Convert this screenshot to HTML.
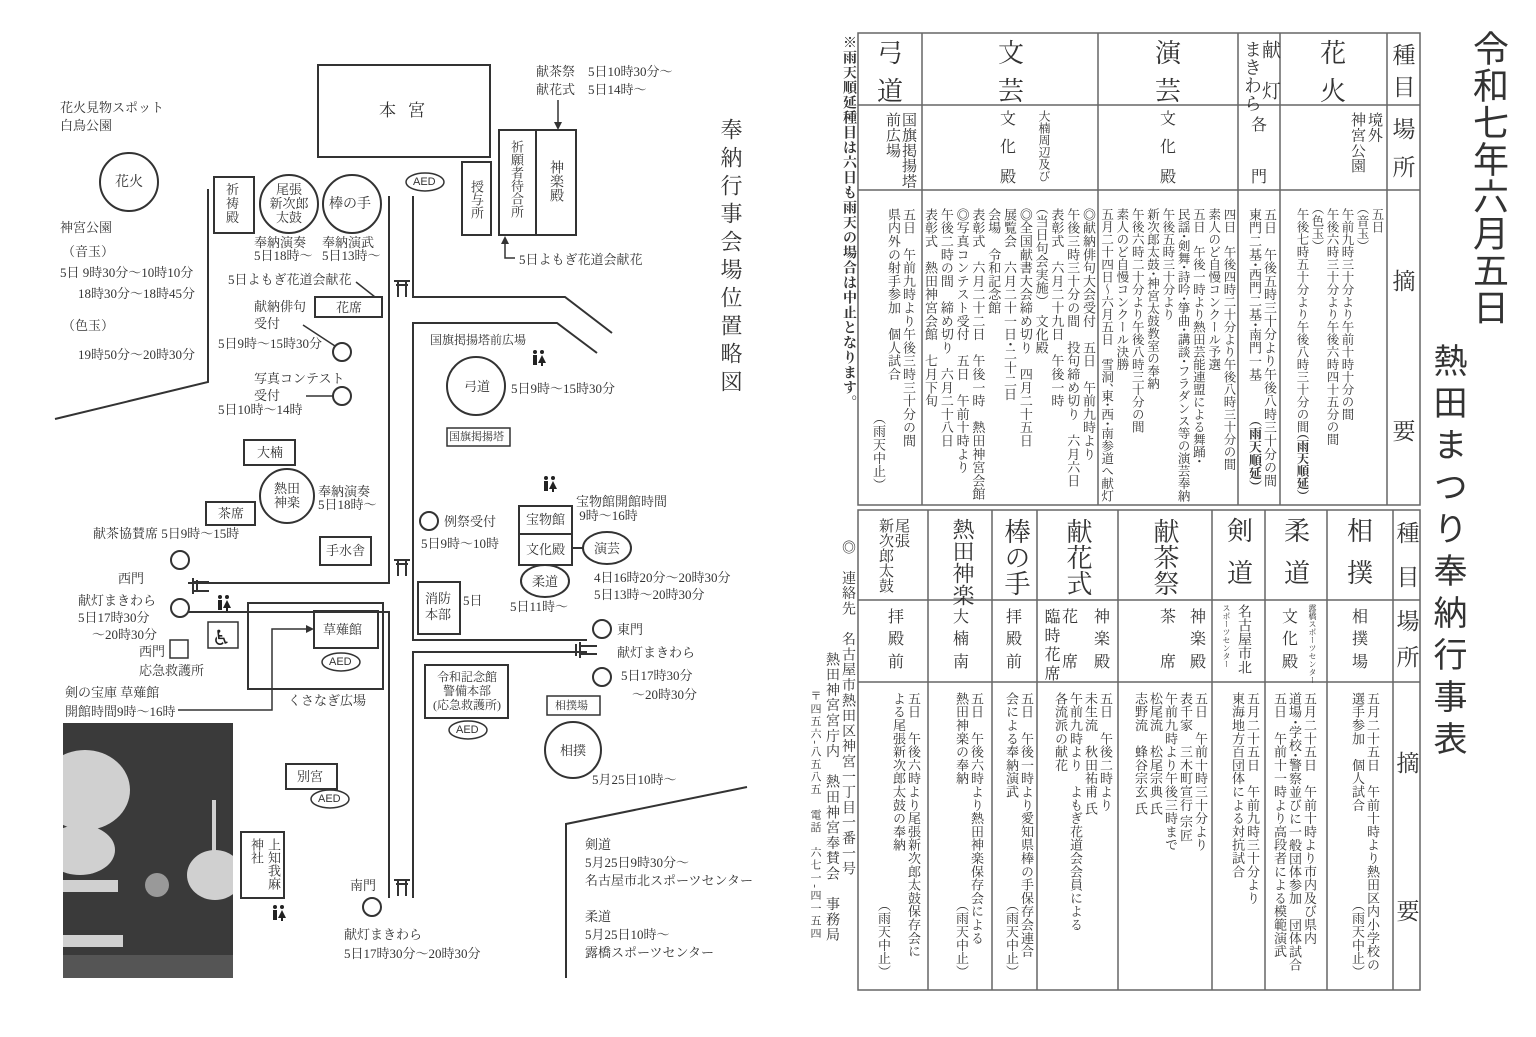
<!DOCTYPE html>
<html><head><meta charset="utf-8">
<style>
html,body{margin:0;padding:0;background:#fff;}
body{width:1536px;height:1037px;position:relative;overflow:hidden;color:#333;
font-family:"Liberation Serif","Noto Serif CJK JP","Noto Serif CJK SC",serif;}
.v{position:absolute;writing-mode:vertical-rl;white-space:nowrap;}
.t{position:absolute;white-space:nowrap;font-size:13px;line-height:15px;}
.b{font-size:13px;line-height:15px;letter-spacing:0.3px;font-feature-settings:"vhal";}
.h{position:absolute;font-size:23px;line-height:23px;width:30px;text-align:center;}
.p{position:absolute;font-size:16px;line-height:16px;}
.s{font-family:"Liberation Sans","Noto Sans CJK JP",sans-serif;}
</style></head><body>

<svg width="1536" height="1037" style="position:absolute;left:0;top:0" fill="none" stroke="#333" stroke-width="2">
<polyline points="208,189 208,382 55,419"/>
<polyline points="389,196 389,583 188,583"/>
<polyline points="188,612 389,612 389,898"/>
<polyline points="413,196 413,297 565,297 612,333"/>
<polyline points="597,353 557,323 413,323 413,640 587,640"/>
<polyline points="587,652 413,652 413,898"/>
<polyline points="566,978 566,824 747,787"/>
<rect x="318" y="65" width="172" height="92"/>
<rect x="499" y="130" width="37" height="105"/>
<rect x="536" y="130" width="40" height="105"/>
<rect x="462" y="162" width="29" height="73"/>
<rect x="214" y="177" width="40" height="56"/>
<circle cx="289" cy="204" r="29"/>
<circle cx="352" cy="204" r="29"/>
<circle cx="129" cy="182" r="29"/>
<rect x="315" y="297" width="67" height="20"/>
<circle cx="342" cy="352" r="9"/>
<circle cx="342" cy="396" r="9"/>
<line x1="303" y1="325" x2="335" y2="346" stroke-width="1.5"/>
<line x1="306" y1="396" x2="333" y2="396" stroke-width="1.5"/>
<line x1="356" y1="282" x2="375" y2="297" stroke-width="1.5"/>
<circle cx="476" cy="386" r="29"/>
<rect x="447" y="428" width="63" height="18" stroke-width="1.5"/>
<rect x="244" y="440" width="51" height="25"/>
<circle cx="287" cy="496" r="27"/>
<rect x="206" y="502" width="49" height="23"/>
<rect x="320" y="537" width="51" height="28"/>
<circle cx="429" cy="521" r="9"/>
<rect x="519" y="506" width="53" height="28"/>
<rect x="519" y="534" width="53" height="31"/>
<line x1="572" y1="548" x2="583" y2="548"/>
<ellipse cx="607" cy="548" rx="24" ry="16"/>
<ellipse cx="545" cy="581" rx="24" ry="16"/>
<rect x="418" y="582" width="42" height="52"/>
<circle cx="602" cy="629" r="9"/>
<circle cx="602" cy="677" r="9"/>
<circle cx="180" cy="560" r="9"/>
<circle cx="180" cy="608" r="9"/>
<rect x="170" y="640" width="18" height="18" stroke-width="1.5"/>
<rect x="208" y="622" width="30" height="26" stroke-width="1.5"/>
<rect x="248" y="603" width="135" height="86"/>
<rect x="314" y="611" width="64" height="37"/>
<polyline points="178,710 272,710 272,629 308,629" stroke-width="1.5"/>
<polygon points="314,629 306,625 306,633" fill="#333" stroke="none"/>
<rect x="425" y="665" width="83" height="53"/>
<rect x="547" y="696" width="53" height="19" stroke-width="1.5"/>
<circle cx="573" cy="750" r="28"/>
<rect x="286" y="764" width="51" height="25"/>
<rect x="241" y="832" width="43" height="66"/>
<circle cx="372" cy="907" r="9"/>
<line x1="558" y1="100" x2="558" y2="124" stroke-width="1.5"/>
<polygon points="558,130 554,122 562,122" fill="#333" stroke="none"/>
<polyline points="515,258 505,258 505,242" stroke-width="1.5"/>
<polygon points="505,236 501,244 509,244" fill="#333" stroke="none"/>
<g stroke-width="1.5">
<ellipse cx="425" cy="182" rx="19" ry="9"/>
<ellipse cx="341" cy="662" rx="19" ry="9"/>
<ellipse cx="468" cy="730" rx="19" ry="9"/>
<ellipse cx="330" cy="799" rx="19" ry="9"/>
</g>
<g stroke-width="2">
<path d="M394,281 H410 M396,285 H408 M398,281 V297 M406,281 V297"/>
<path d="M394,560 H410 M396,564 H408 M398,560 V576 M406,560 V576"/>
<path d="M394,880 H410 M396,884 H408 M398,880 V896 M406,880 V896"/>
<path d="M193,578 V594 M197,580 V592 M193,582 H209 M193,591 H209"/>
<path d="M580,642 V658 M576,644 V656 M580,646 H597 M580,654 H597"/>
</g>
<g stroke="#666" stroke-width="1.5">
<rect x="858" y="33" width="562" height="472"/>
<line x1="858" y1="105" x2="1420" y2="105"/>
<line x1="858" y1="190" x2="1420" y2="190"/>
<line x1="922" y1="33" x2="922" y2="505"/>
<line x1="1098" y1="33" x2="1098" y2="505"/>
<line x1="1238" y1="33" x2="1238" y2="505"/>
<line x1="1280" y1="33" x2="1280" y2="505"/>
<line x1="1387" y1="33" x2="1387" y2="505"/>
<rect x="858" y="510" width="562" height="480"/>
<line x1="858" y1="600" x2="1420" y2="600"/>
<line x1="858" y1="682" x2="1420" y2="682"/>
<line x1="928" y1="510" x2="928" y2="990"/>
<line x1="992" y1="510" x2="992" y2="990"/>
<line x1="1037" y1="510" x2="1037" y2="990"/>
<line x1="1118" y1="510" x2="1118" y2="990"/>
<line x1="1212" y1="510" x2="1212" y2="990"/>
<line x1="1265" y1="510" x2="1265" y2="990"/>
<line x1="1327" y1="510" x2="1327" y2="990"/>
<line x1="1393" y1="510" x2="1393" y2="990"/>
</g>
</svg>

<svg width="1536" height="1037" style="position:absolute;left:0;top:0" fill="#222">
<defs><clipPath id="ph"><rect x="63" y="723" width="170" height="255"/></clipPath></defs>
<g id="wc"><circle cx="535" cy="352" r="2"/><rect x="533" y="355" width="4" height="10"/><circle cx="542" cy="352" r="2"/><polygon points="542,355 538,363 546,363"/><rect x="541" y="362" width="2" height="4"/></g>
<use href="#wc" x="11" y="126"/>
<use href="#wc" x="-315" y="245"/>
<use href="#wc" x="-260" y="555"/>
<text x="212" y="645" font-size="21" fill="#222" font-family="DejaVu Sans">♿</text>
<rect x="63" y="723" width="170" height="255" fill="#3a3a3a"/>
<g clip-path="url(#ph)" fill="#d0d0d0">
<ellipse cx="85" cy="790" rx="45" ry="40"/><ellipse cx="80" cy="850" rx="35" ry="25"/>
<rect x="63" y="880" width="55" height="12"/><rect x="63" y="935" width="60" height="12"/>
<ellipse cx="215" cy="875" rx="28" ry="25"/><rect x="212" y="800" width="4" height="55"/>
<circle cx="157" cy="885" r="12" fill="#999"/>
<rect x="63" y="955" width="170" height="23" fill="#555"/>
</g>
</svg>

<div class="p" style="left:379px;top:103px;font-size:17px;letter-spacing:12px">本宮</div>
<div class="t" style="left:536px;top:64px">献茶祭　5日10時30分～</div>
<div class="t" style="left:536px;top:82px">献花式　5日14時～</div>
<div class="v" style="left:510px;top:140px;font-size:13px;line-height:13px">祈願者待合所</div>
<div class="v" style="left:548px;top:160px;font-size:14px;line-height:14px">神楽殿</div>
<div class="v" style="left:470px;top:180px;font-size:13px;line-height:13px">授与所</div>
<div class="t" style="left:519px;top:252px">5日よもぎ花道会献花</div>
<div class="t s" style="left:413px;top:175px;font-size:11px">AED</div>
<div class="t s" style="left:329px;top:655px;font-size:11px">AED</div>
<div class="t s" style="left:456px;top:723px;font-size:11px">AED</div>
<div class="t s" style="left:318px;top:792px;font-size:11px">AED</div>

<div class="t" style="left:60px;top:100px">花火見物スポット</div>
<div class="t" style="left:60px;top:118px">白鳥公園</div>
<div class="t" style="left:115px;top:175px;font-size:14px">花火</div>
<div class="t" style="left:60px;top:220px">神宮公園</div>
<div class="t" style="left:62px;top:244px">（音玉）</div>
<div class="t" style="left:60px;top:265px">5日 9時30分～10時10分</div>
<div class="t" style="left:78px;top:286px">18時30分～18時45分</div>
<div class="t" style="left:62px;top:318px">（色玉）</div>
<div class="t" style="left:78px;top:347px">19時50分～20時30分</div>

<div class="t" style="left:226px;top:183px;width:16px;white-space:normal;line-height:14px">祈祷殿</div>
<div class="t" style="left:268px;top:183px;text-align:center;width:42px;line-height:14px">尾張<br>新次郎<br>太鼓</div>
<div class="t" style="left:329px;top:197px;font-size:14px">棒の手</div>
<div class="t" style="left:254px;top:236px;line-height:13px">奉納演奏<br>5日18時～</div>
<div class="t" style="left:322px;top:236px;line-height:13px">奉納演武<br>5日13時～</div>
<div class="t" style="left:228px;top:272px">5日よもぎ花道会献花</div>
<div class="t" style="left:336px;top:300px">花席</div>
<div class="t" style="left:254px;top:298px;line-height:17px">献納俳句<br>受付</div>
<div class="t" style="left:218px;top:336px">5日9時～15時30分</div>
<div class="t" style="left:254px;top:370px;line-height:17px">写真コンテスト<br>受付</div>
<div class="t" style="left:218px;top:402px">5日10時～14時</div>

<div class="t" style="left:430px;top:333px;font-size:12px">国旗掲揚塔前広場</div>
<div class="t" style="left:464px;top:379px">弓道</div>
<div class="t" style="left:511px;top:381px">5日9時～15時30分</div>
<div class="t" style="left:449px;top:430px;font-size:11px">国旗掲揚塔</div>
<div class="t" style="left:257px;top:445px">大楠</div>
<div class="t" style="left:274px;top:482px;line-height:14px">熱田<br>神楽</div>
<div class="t" style="left:318px;top:485px;line-height:13px">奉納演奏<br>5日18時～</div>
<div class="t" style="left:218px;top:506px">茶席</div>
<div class="t" style="left:93px;top:526px">献茶協賛席 5日9時～15時</div>
<div class="t" style="left:326px;top:543px">手水舎</div>
<div class="t" style="left:444px;top:514px">例祭受付</div>
<div class="t" style="left:421px;top:536px">5日9時～10時</div>
<div class="t" style="left:526px;top:512px">宝物館</div>
<div class="t" style="left:526px;top:542px">文化殿</div>
<div class="t" style="left:576px;top:495px;line-height:14px">宝物館開館時間<br>&nbsp;9時～16時</div>
<div class="t" style="left:594px;top:541px">演芸</div>
<div class="t" style="left:532px;top:574px">柔道</div>
<div class="t" style="left:594px;top:569px;line-height:17px">4日16時20分～20時30分<br>5日13時～20時30分</div>
<div class="t" style="left:510px;top:599px">5日11時～</div>
<div class="t" style="left:425px;top:591px;line-height:16px">消防<br>本部</div>
<div class="t" style="left:463px;top:593px">5日</div>
<div class="t" style="left:617px;top:622px">東門</div>
<div class="t" style="left:617px;top:645px">献灯まきわら</div>
<div class="t" style="left:621px;top:668px">5日17時30分</div>
<div class="t" style="left:632px;top:687px">～20時30分</div>
<div class="t" style="left:118px;top:571px">西門</div>
<div class="t" style="left:78px;top:593px">献灯まきわら</div>
<div class="t" style="left:78px;top:610px">5日17時30分</div>
<div class="t" style="left:92px;top:627px">～20時30分</div>
<div class="t" style="left:139px;top:644px">西門</div>
<div class="t" style="left:139px;top:663px">応急救護所</div>
<div class="t" style="left:323px;top:622px">草薙館</div>
<div class="t" style="left:288px;top:693px">くさなぎ広場</div>
<div class="t" style="left:65px;top:685px">剣の宝庫 草薙館</div>
<div class="t" style="left:65px;top:704px">開館時間9時～16時</div>
<div class="t" style="left:429px;top:670px;font-size:12px;line-height:14px;text-align:center;width:76px">令和記念館<br>警備本部<br>(応急救護所)</div>
<div class="t" style="left:555px;top:699px;font-size:11px">相撲場</div>
<div class="t" style="left:560px;top:743px">相撲</div>
<div class="t" style="left:592px;top:772px">5月25日10時～</div>
<div class="t" style="left:297px;top:769px">別宮</div>
<div class="v" style="left:248px;top:838px;font-size:13px;line-height:17px">上知我麻<br>神社</div>
<div class="t" style="left:350px;top:878px">南門</div>
<div class="t" style="left:344px;top:927px">献灯まきわら</div>
<div class="t" style="left:344px;top:946px">5日17時30分～20時30分</div>
<div class="t" style="left:585px;top:836px;line-height:18px">剣道<br>5月25日9時30分～<br>名古屋市北スポーツセンター</div>
<div class="t" style="left:585px;top:908px;line-height:18px">柔道<br>5月25日10時～<br>露橋スポーツセンター</div>
<div class="v" style="left:718px;top:118px;font-size:22px;line-height:24px;letter-spacing:6px">奉納行事会場位置略図</div>

<div class="v s" style="left:1468px;top:30px;font-size:36px;line-height:40px;letter-spacing:1px">令和七年六月五日</div>
<div class="v s" style="left:1427px;top:343px;font-size:34px;line-height:40px;letter-spacing:8px">熱田まつり奉納行事表</div>

<div class="v" style="left:840px;top:35px;font-size:14px;line-height:16px;font-weight:bold;letter-spacing:1px">※雨天順延種目は六日も雨天の場合は中止となります。</div>
<div class="v" style="left:840px;top:540px;font-size:14px;line-height:15px;letter-spacing:1.3px">◎　連絡先　名古屋市熱田区神宮一丁目一番一号</div>
<div class="v" style="left:824px;top:652px;font-size:14px;line-height:15px;letter-spacing:1.3px">熱田神宮宮庁内　熱田神宮奉賛会　事務局</div>
<div class="v" style="left:809px;top:690px;font-size:11px;line-height:12px;letter-spacing:1.6px">〒四五六-八五八五　電話　六七一-四一五四</div>

<div class="h" style="left:1389px;top:44px">種</div><div class="h" style="left:1389px;top:76px">目</div>
<div class="h" style="left:1389px;top:118px">場</div><div class="h" style="left:1389px;top:156px">所</div>
<div class="h" style="left:1389px;top:270px">摘</div><div class="h" style="left:1389px;top:420px">要</div>
<div class="h" style="left:1318px;top:42px;font-size:26px">花</div><div class="h" style="left:1318px;top:80px;font-size:26px">火</div>
<div class="v b" style="right:154px;top:112px;font-size:15px;line-height:17px">境外<br>神宮公園</div>
<div class="v b" style="right:152px;top:208px;font-size:12.5px;letter-spacing:0">五日<br>（音玉）<br>午前九時三十分より午前十時十分の間<br>午後六時三十分より午後六時四十五分の間<br>（色玉）<br>午後七時五十分より午後八時三十分の間<b>（雨天順延）</b></div>
<div class="v" style="left:1242px;top:40px;font-size:18px;line-height:19px">まきわら</div>
<div class="v" style="left:1260px;top:40px;font-size:19px;line-height:19px;letter-spacing:22px">献灯</div>
<div class="p" style="left:1251px;top:118px">各</div><div class="p" style="left:1251px;top:170px">門</div>
<div class="v b" style="right:259px;top:208px">五日　午後五時三十分より午後八時三十分の間</div>
<div class="v b" style="right:274px;top:208px">東門二基・西門二基・南門一基</div>
<div class="v b" style="right:274px;top:420px;font-weight:bold">（雨天順延）</div>
<div class="h" style="left:1153px;top:42px;font-size:26px">演</div><div class="h" style="left:1153px;top:80px;font-size:26px">芸</div>
<div class="p" style="left:1160px;top:112px">文</div><div class="p" style="left:1160px;top:140px">化</div><div class="p" style="left:1160px;top:170px">殿</div>
<div class="v b" style="right:300px;top:208px;line-height:15.3px;font-size:12.5px;letter-spacing:0">四日　午後四時二十分より午後八時三十分の間<br>素人のど自慢コンクール予選<br>五日　午後一時より熱田芸能連盟による舞踊・<br>民謡・剣舞・詩吟・箏曲・講談・フラダンス等の演芸奉納<br>午後五時三十分より<br>新次郎太鼓・神宮太鼓教室の奉納<br>午後六時二十分より午後八時三十分の間<br>素人のど自慢コンクール決勝<br>五月二十四日～六月五日　雪洞、東・西・南参道へ献灯</div>
<div class="h" style="left:996px;top:42px;font-size:26px">文</div><div class="h" style="left:996px;top:80px;font-size:26px">芸</div>
<div class="v" style="left:1038px;top:110px;font-size:12px;line-height:12px">大楠周辺及び</div>
<div class="p" style="left:1000px;top:112px">文</div><div class="p" style="left:1000px;top:140px">化</div><div class="p" style="left:1000px;top:170px">殿</div>
<div class="v b" style="right:440px;top:208px;line-height:15.8px">◎献納俳句大会受付　五日　午前九時より<br>午後三時三十分の間　投句締め切り　六月六日<br>表彰式　六月二十九日　午後一時<br>（当日句会実施）　文化殿<br>◎全国献書大会締め切り　四月二十五日<br>展覧会　六月二十一日・二十二日<br>会場　令和記念館<br>表彰式　六月二十二日　午後一時　熱田神宮会館<br>◎写真コンテスト受付　五日　午前十時より<br>午後二時の間　締め切り　六月二十八日<br>表彰式　熱田神宮会館　七月下旬</div>
<div class="h" style="left:875px;top:42px;font-size:26px">弓</div><div class="h" style="left:875px;top:80px;font-size:26px">道</div>
<div class="v b" style="right:620px;top:112px;font-size:15px;line-height:16px">国旗掲揚塔<br>前広場</div>
<div class="v b" style="right:620px;top:208px">五日　午前九時より午後三時三十分の間<br>県内外の射手参加　個人試合</div>
<div class="v b" style="right:650px;top:418px">（雨天中止）</div>

<div class="h" style="left:1393px;top:522px">種</div><div class="h" style="left:1393px;top:566px">目</div>
<div class="h" style="left:1393px;top:610px">場</div><div class="h" style="left:1393px;top:646px">所</div>
<div class="h" style="left:1393px;top:752px">摘</div><div class="h" style="left:1393px;top:900px">要</div>
<div class="h" style="left:1345px;top:520px;font-size:26px">相</div><div class="h" style="left:1345px;top:562px;font-size:26px">撲</div>
<div class="p" style="left:1352px;top:610px">相</div><div class="p" style="left:1352px;top:632px">撲</div><div class="p" style="left:1352px;top:655px">場</div>
<div class="v b" style="right:156px;top:692px">五月二十五日　午前十時より熱田区内小学校の<br>選手参加　個人試合</div>
<div class="v b" style="right:171px;top:905px">（雨天中止）</div>
<div class="h" style="left:1282px;top:520px;font-size:26px">柔</div><div class="h" style="left:1282px;top:562px;font-size:26px">道</div>
<div class="v" style="left:1308px;top:604px;font-size:8px;line-height:9px">露橋スポーツセンター</div>
<div class="p" style="left:1282px;top:610px">文</div><div class="p" style="left:1282px;top:632px">化</div><div class="p" style="left:1282px;top:655px">殿</div>
<div class="v b" style="right:219px;top:692px">五月二十五日　午前十時より市内及び県内<br>道場・学校・警察並びに一般団体参加　団体試合<br>五日　午前十一時より高段者による模範演武</div>
<div class="h" style="left:1225px;top:520px;font-size:26px">剣</div><div class="h" style="left:1225px;top:562px;font-size:26px">道</div>
<div class="v" style="left:1236px;top:604px;font-size:14px;line-height:15px">名古屋市北</div>
<div class="v" style="left:1222px;top:604px;font-size:8px;line-height:9px">スポーツセンター</div>
<div class="v b" style="right:276px;top:692px">五月二十五日　午前九時三十分より<br>東海地方百団体による対抗試合</div>
<div class="v" style="left:1150px;top:518px;font-size:26px;line-height:28px">献茶祭</div>
<div class="p" style="left:1190px;top:610px">神</div><div class="p" style="left:1190px;top:632px">楽</div><div class="p" style="left:1190px;top:655px">殿</div>
<div class="p" style="left:1160px;top:610px">茶</div><div class="p" style="left:1160px;top:655px">席</div>
<div class="v b" style="right:328px;top:692px">五日　午前十時三十分より<br>表千家　三木町宣行 宗匠<br>午前九時より午後三時まで<br>松尾流　松尾宗典 氏<br>志野流　蜂谷宗玄 氏</div>
<div class="v" style="left:1063px;top:518px;font-size:26px;line-height:28px">献花式</div>
<div class="p" style="left:1094px;top:610px">神</div><div class="p" style="left:1094px;top:632px">楽</div><div class="p" style="left:1094px;top:655px">殿</div>
<div class="p" style="left:1062px;top:610px">花</div><div class="p" style="left:1062px;top:655px">席</div>
<div class="v" style="left:1041px;top:608px;font-size:16px;line-height:18px;letter-spacing:3px">臨時花席</div>
<div class="v b" style="right:423px;top:692px">五日　午後二時より<br>未生流　秋田祐甫 氏<br>午前九時より　よもぎ花道会会員による<br>各流派の献花</div>
<div class="v" style="left:1001px;top:518px;font-size:26px;line-height:28px">棒の手</div>
<div class="p" style="left:1006px;top:610px">拝</div><div class="p" style="left:1006px;top:632px">殿</div><div class="p" style="left:1006px;top:655px">前</div>
<div class="v b" style="right:502px;top:692px">五日　午後一時より愛知県棒の手保存会連合<br>会による奉納演武</div>
<div class="v b" style="right:517px;top:905px">（雨天中止）</div>
<div class="v" style="left:950px;top:518px;font-size:22px;line-height:24px">熱田神楽</div>
<div class="p" style="left:953px;top:610px">大</div><div class="p" style="left:953px;top:632px">楠</div><div class="p" style="left:953px;top:655px">南</div>
<div class="v b" style="right:552px;top:692px">五日　午後六時より熱田神楽保存会による<br>熱田神楽の奉納</div>
<div class="v b" style="right:567px;top:905px">（雨天中止）</div>
<div class="v" style="left:877px;top:518px;font-size:15px;line-height:16px">尾張<br>新次郎太鼓</div>
<div class="p" style="left:888px;top:610px">拝</div><div class="p" style="left:888px;top:632px">殿</div><div class="p" style="left:888px;top:655px">前</div>
<div class="v b" style="right:615px;top:692px">五日　午後六時より尾張新次郎太鼓保存会に<br>よる尾張新次郎太鼓の奉納</div>
<div class="v b" style="right:645px;top:905px">（雨天中止）</div>
</body></html>
